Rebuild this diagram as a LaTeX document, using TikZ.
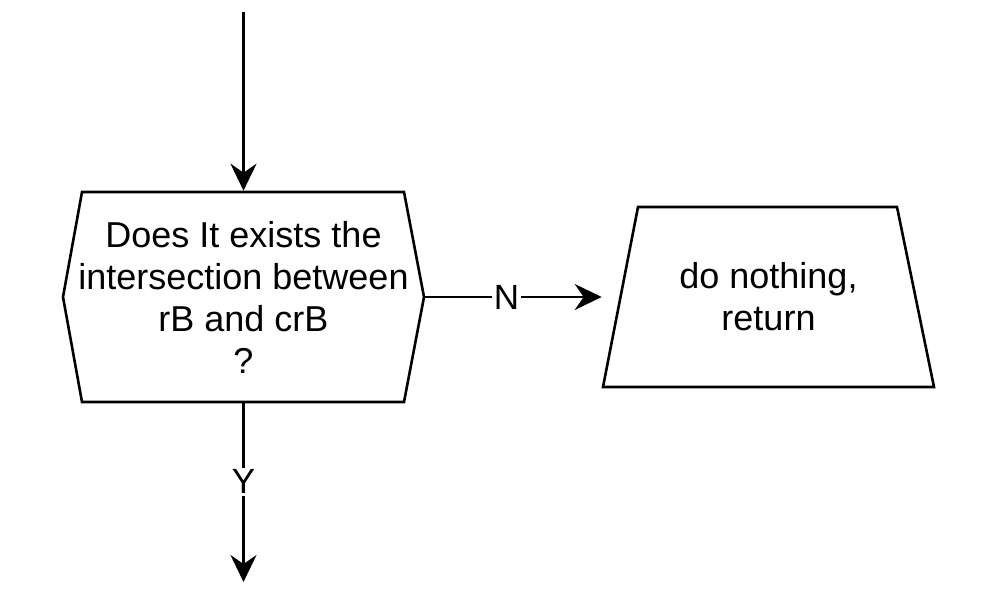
\documentclass[tikz,border=0pt]{standalone}
\usepackage{fontspec}
\setmainfont{Liberation Sans}
\usetikzlibrary{arrows.meta}

\tikzset{
  boxtext/.style={font=\fontsize{36}{42}\selectfont, align=center, inner sep=0pt},
  edgelabel/.style={font=\fontsize{35}{38}\selectfont, fill=white, inner sep=2pt}
}

\begin{document}
\begin{tikzpicture} [x=1pt, y=-1pt, line width=2.6pt,
  >={Stealth[length=27pt, width=26pt, inset=9pt]}]
\useasboundingbox (0,0) rectangle (996,607);
% decision box
\draw (82,192) -- (404,192) -- (424,297) -- (404,402) -- (82,402) -- (63,297) -- cycle;
\draw (243.5,297) node (ask) [boxtext, minimum width=361pt, minimum height=210pt]
  {Does It exists the\\intersection between\\rB and crB\\?};
% output box
\draw (638,207) -- (897,207) -- (934,387) -- (603,387) -- cycle;
\draw (768.5,297) node (done) [boxtext, minimum width=331pt, minimum height=180pt]
  {do nothing,\\return};
\coordinate (in) at (243.5,12);
\coordinate (out) at (243.5,582);
\draw[->] (in) -- (ask.north);
\draw[->] (ask.east) -- node[edgelabel, pos=0.46] {N} (done.west);
\draw[->] (ask.south) -- node[edgelabel, pos=0.44] {Y} (out);
\end{tikzpicture}
\end{document}
